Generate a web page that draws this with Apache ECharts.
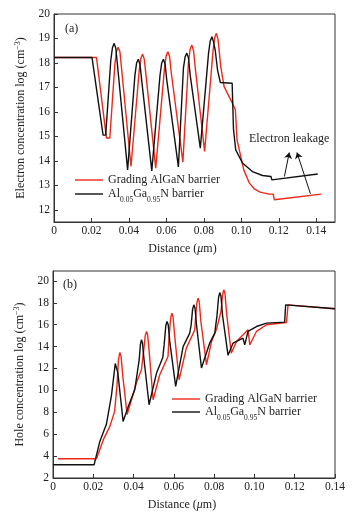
<!DOCTYPE html>
<html><head><meta charset="utf-8">
<script src="https://cdn.jsdelivr.net/npm/echarts@6/dist/echarts.min.js"></script>
<style>html,body{margin:0;padding:0;background:#fff}#c{width:364px;height:517px}</style>
</head><body><div id="c"></div>
<script>
// ---- Data ----
const xTicksA = [0, 0.02, 0.04, 0.06, 0.08, 0.10, 0.12, 0.14];
const yTicksA = [12, 13, 14, 15, 16, 17, 18, 19, 20];
const xTicksB = [0, 0.02, 0.04, 0.06, 0.08, 0.10, 0.12, 0.14];
const yTicksB = [2, 4, 6, 8, 10, 12, 14, 16, 18, 20];

const nameRed = 'Grading AlGaN barrier';
const nameBlack = 'Al0.05Ga0.95N barrier';

// Panel (a): electron concentration
const electronRed = [
 [0,18.22],[0.0227,18.22],[0.0280,14.93],[0.0298,14.93],
 [0.0325,17.95],[0.0334,18.48],[0.0343,18.64],[0.0352,18.45],[0.0361,17.75],
 [0.0411,13.77],
 [0.0455,17.7],[0.0464,18.2],[0.0473,18.36],[0.0482,18.15],[0.0491,17.5],
 [0.0543,13.70],
 [0.0590,17.8],[0.0599,18.3],[0.0608,18.46],[0.0617,18.25],[0.0626,17.6],
 [0.0688,13.95],
 [0.0718,18.05],[0.0727,18.57],[0.0736,18.73],[0.0745,18.5],[0.0754,17.8],
 [0.0804,14.38],
 [0.0849,18.5],[0.0858,19.05],[0.0867,19.21],[0.0876,18.95],[0.0890,17.85],
 [0.0908,17.03],[0.0952,16.36],[0.0968,16.1],
 [0.0977,14.86],[0.0997,14.18],[0.1013,13.63],[0.1042,13.1],[0.1070,12.85],[0.1100,12.72],[0.1149,12.64],[0.1170,12.64],
 [0.1176,12.41],[0.1426,12.64]
];
const electronBlack = [
 [0,18.22],[0.0203,18.22],[0.0262,15.05],[0.0276,15.05],
 [0.0303,18.1],[0.0312,18.62],[0.0321,18.80],[0.0330,18.6],[0.0339,17.9],
 [0.0393,13.63],
 [0.0432,17.5],[0.0441,18.0],[0.0450,18.15],[0.0459,17.95],[0.0468,17.3],
 [0.0522,13.59],
 [0.0566,17.5],[0.0575,18.0],[0.0584,18.15],[0.0593,17.95],[0.0602,17.3],
 [0.0664,13.75],
 [0.0691,17.8],[0.0700,18.25],[0.0709,18.40],[0.0718,18.2],[0.0727,17.5],
 [0.0781,14.52],
 [0.0825,18.4],[0.0834,18.9],[0.0843,19.07],[0.0852,18.85],[0.0861,18.5],[0.0873,17.71],[0.0888,17.2],
 [0.0951,17.17],[0.0955,17.24],
 [0.0958,15.3],[0.0970,14.45],[0.1006,13.91],[0.1059,13.56],[0.1113,13.40],[0.1158,13.36],[0.1163,13.22],[0.1408,13.46]
];

// Panel (b): hole concentration
const holeRed = [
 [0.0025,3.76],[0.0216,3.76],[0.0250,5.5],[0.0282,6.71],[0.0306,8.08],
 [0.0318,10.5],[0.0325,12.8],[0.0332,13.46],[0.0338,13.1],[0.0346,11.4],[0.0368,7.8],
 [0.0414,10.67],[0.0439,11.88],
 [0.0450,13.6],[0.0458,15.0],[0.0464,15.38],[0.0470,15.05],[0.0478,13.4],[0.0497,9.14],
 [0.0530,11.43],[0.0571,13.1],
 [0.0576,14.8],[0.0584,16.6],[0.0590,17.05],[0.0596,16.7],[0.0604,15.0],[0.0626,10.97],
 [0.0662,13.86],[0.0704,15.53],
 [0.0707,16.4],[0.0714,17.95],[0.0720,18.42],[0.0726,18.1],[0.0734,16.3],[0.0762,12.34],
 [0.0787,14.46],[0.0811,15.53],
 [0.0834,17.2],[0.0842,18.75],[0.0848,19.18],[0.0854,18.85],[0.0862,17.0],[0.0885,13.4],
 [0.0911,14.46],[0.0968,15.53],[0.0977,14.16],[0.1010,15.38],[0.1060,15.99],[0.1159,16.2],
 [0.1167,17.81],[0.14,17.45]
];
const holeBlack = [
 [0,3.21],[0.0204,3.21],[0.0232,5.3],[0.0265,6.9],[0.0290,9.5],
 [0.0305,11.8],[0.0309,12.45],[0.0312,12.6],[0.0316,12.4],[0.0322,11.6],[0.0348,7.16],
 [0.0375,8.6],[0.0406,10.06],
 [0.0428,12.8],[0.0434,14.2],[0.0439,14.62],[0.0444,14.35],[0.0452,12.8],[0.0477,8.69],
 [0.0514,11.58],[0.0545,13.0],
 [0.0552,14.2],[0.0560,15.9],[0.0566,16.29],[0.0572,16.0],[0.0580,14.4],[0.0609,10.36],
 [0.0646,14.0],[0.0679,15.23],
 [0.0686,16.0],[0.0693,17.4],[0.0699,17.81],[0.0705,17.5],[0.0713,15.9],[0.0737,12.04],
 [0.0778,14.32],[0.0803,15.23],
 [0.0814,16.8],[0.0822,18.5],[0.0828,18.93],[0.0834,18.6],[0.0842,16.8],[0.0869,13.2],
 [0.0894,14.32],[0.0943,14.77],[0.0952,14.16],[0.0968,15.38],[0.1010,15.83],[0.1060,16.14],[0.1150,16.23],
 [0.1155,17.81],[0.14,17.45]
];

// Annotation arrows (panel a), data coordinates
const leakageArrows = [
 [[0.1230,13.36],[0.1256,14.34]],
 [[0.1369,12.65],[0.1297,14.34]]
];

// ---- Styles ----
const FF = '"Liberation Serif", "Times New Roman", serif';
const RED = '#f02818';
const BLACK = '#111111';
const AX = '#333333';
const LEG_ICON = 'path://M0,0L28,0L28,1.4L0,1.4Z';

const richName = {
  t: {fontFamily: FF, fontSize: 12, color: '#222', lineHeight: 14},
  s: {fontFamily: FF, fontSize: 8, color: '#222', verticalAlign: 'top', lineHeight: 14},
  i: {fontFamily: FF, fontSize: 12, color: '#222', fontStyle: 'italic', lineHeight: 14}
};
const richLegend = {
  t: {fontFamily: FF, fontSize: 12, color: '#222', lineHeight: 14},
  b: {fontFamily: FF, fontSize: 7.5, color: '#222', verticalAlign: 'bottom', lineHeight: 14, padding: [0,0,-3,0]}
};
function legendFmt(n) {
  if (n === nameBlack) return '{t|Al}{b|0.05}{t|Ga}{b|0.95}{t|N barrier}';
  return '{t|' + n + '}';
}
function xFmt(v) { return v === 0 ? '0' : v.toFixed(2); }

function xAxis(grid, max, ticks) {
  return {
    type: 'value', gridIndex: grid, min: 0, max: max,
    axisLine: {onZero: false, lineStyle: {color: AX, width: 1}},
    axisTick: {inside: true, length: 4, customValues: ticks, lineStyle: {color: AX}},
    axisLabel: {customValues: ticks, formatter: xFmt, margin: 3, fontFamily: FF, fontSize: 11.5, color: '#222'},
    splitLine: {show: false},
    name: '{t|Distance (}{i|μ}{t|m)}', nameLocation: 'middle', nameGap: 20,
    nameTextStyle: {rich: richName, padding: [0, 24, 0, 0]}
  };
}
function yAxis(grid, min, max, ticks, name) {
  return {
    type: 'value', gridIndex: grid, min: min, max: max,
    axisLine: {onZero: false, lineStyle: {color: AX, width: 1}},
    axisTick: {inside: true, length: 4, customValues: ticks, lineStyle: {color: AX}},
    axisLabel: {customValues: ticks, margin: 4, fontFamily: FF, fontSize: 11.5, color: '#222'},
    splitLine: {show: false},
    name: '{t|' + name + ' (cm}{s|−3}{t|)}', nameLocation: 'middle', nameGap: 26,
    nameTextStyle: {rich: richName}
  };
}
function line(name, data, color, xi, yi, extra) {
  return Object.assign({
    type: 'line', name: name, data: data, xAxisIndex: xi, yAxisIndex: yi,
    symbol: 'none', showSymbol: false, smooth: false, animation: false,
    lineStyle: {color: color, width: 1.4}, itemStyle: {color: color}
  }, extra || {});
}
const legendData = [{name: nameRed, icon: LEG_ICON}, {name: nameBlack, icon: LEG_ICON}];

const chart = echarts.init(document.getElementById('c'), null, {renderer: 'canvas'});
chart.setOption({
  animation: false,
  backgroundColor: '#fff',
  title: [
    {text: '(a)', left: 65, top: 23, padding: 0, textStyle: {fontFamily: FF, fontSize: 12, fontWeight: 'normal', color: '#222'}},
    {text: '(b)', left: 63, top: 279, padding: 0, textStyle: {fontFamily: FF, fontSize: 12, fontWeight: 'normal', color: '#222'}}
  ],
  grid: [
    {left: 54, top: 14, width: 281, height: 208, show: true, borderColor: AX, borderWidth: 1, backgroundColor: 'transparent'},
    {left: 53, top: 271, width: 282, height: 207, show: true, borderColor: AX, borderWidth: 1, backgroundColor: 'transparent'}
  ],
  legend: [
    {data: legendData, orient: 'vertical', left: 75, top: 174, padding: 0, itemWidth: 28, itemHeight: 14, itemGap: 2,
     formatter: legendFmt, textStyle: {rich: richLegend}},
    {data: legendData, orient: 'vertical', left: 172, top: 393, padding: 0, itemWidth: 28, itemHeight: 14, itemGap: 1,
     formatter: legendFmt, textStyle: {rich: richLegend}}
  ],
  xAxis: [xAxis(0, 0.15, xTicksA), xAxis(1, 0.14, xTicksB)],
  yAxis: [
    yAxis(0, 11.5, 20, yTicksA, 'Electron concentration log'),
    yAxis(1, 2, 20.9, yTicksB, 'Hole concentration log')
  ],
  graphic: [
    {type: 'text', left: 249, top: 133, style: {text: 'Electron leakage', font: '12px ' + FF, fill: '#222'}}
  ],
  series: [
    line(nameRed, electronRed, RED, 0, 0),
    line(nameBlack, electronBlack, BLACK, 0, 0, {
      markLine: {
        silent: true, animation: false, symbol: ['none', 'arrow'], symbolSize: 6,
        label: {show: false}, emphasis: {disabled: true},
        lineStyle: {color: BLACK, width: 1, type: 'solid'},
        itemStyle: {color: BLACK},
        data: leakageArrows.map(a => [{coord: a[0]}, {coord: a[1]}])
      }
    }),
    line(nameRed, holeRed, RED, 1, 1),
    line(nameBlack, holeBlack, BLACK, 1, 1)
  ]
});
</script>
</body></html>
